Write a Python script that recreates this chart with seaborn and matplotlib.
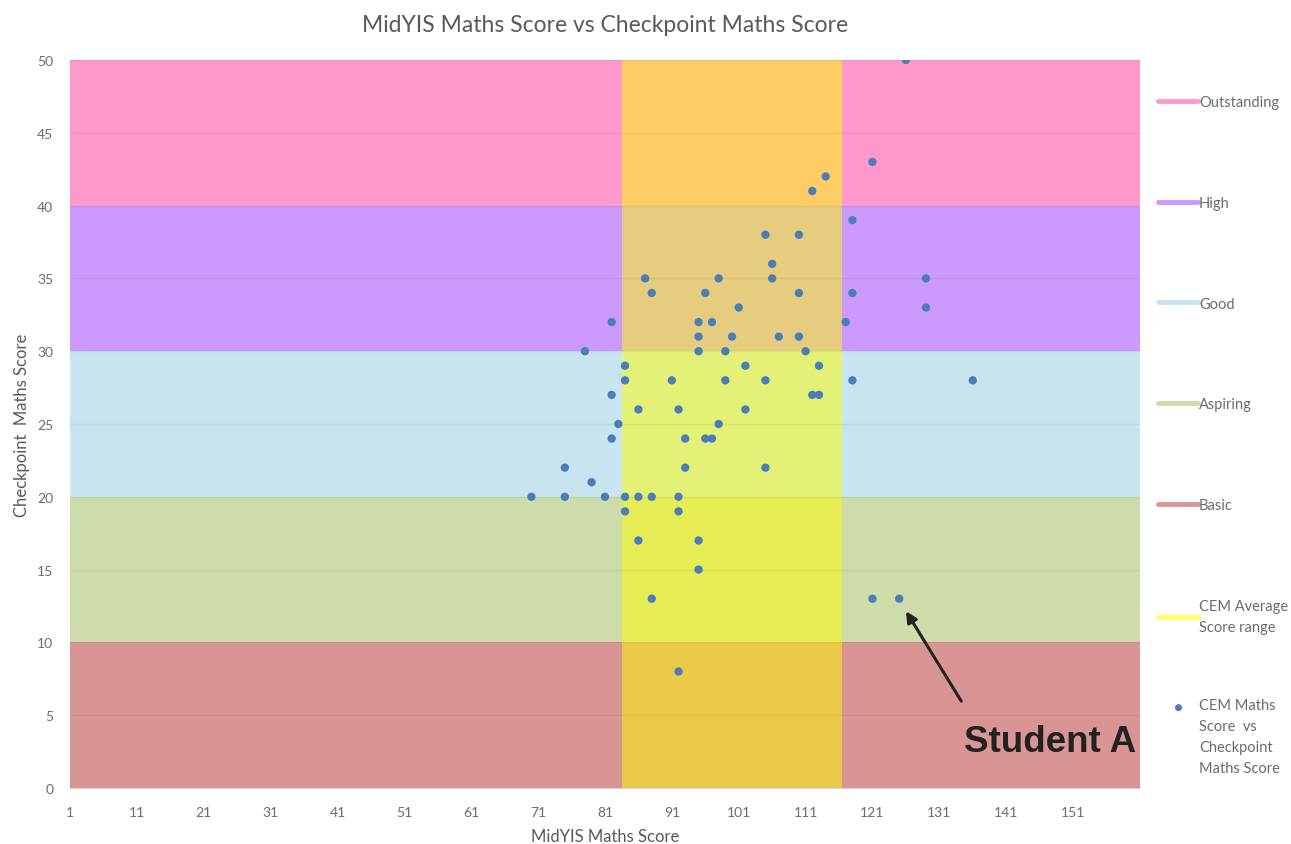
import numpy as np
import pandas as pd
import seaborn as sns
import matplotlib.pyplot as plt
from matplotlib.lines import Line2D
from matplotlib.path import Path

# Student scores
midyis = [126, 121, 114, 112, 118, 105, 110, 106, 87, 98, 106, 129, 88, 96, 110, 118,
          101, 129, 82, 95, 97, 117, 95, 100, 107, 110, 78, 95, 99, 111, 84, 102, 113,
          84, 91, 99, 105, 118, 136, 82, 112, 113, 86, 92, 102, 83, 98, 82, 93, 96, 97,
          75, 93, 105, 79, 70, 75, 81, 84, 86, 88, 92, 84, 92, 86, 95, 95, 88, 121, 125, 92]
checkpoint = [50, 43, 42, 41, 39, 38, 38, 36, 35, 35, 35, 35, 34, 34, 34, 34,
              33, 33, 32, 32, 32, 32, 31, 31, 31, 31, 30, 30, 30, 30, 29, 29, 29,
              28, 28, 28, 28, 28, 28, 27, 27, 27, 26, 26, 26, 25, 25, 24, 24, 24, 24,
              22, 22, 22, 21, 20, 20, 20, 20, 20, 20, 20, 19, 19, 17, 17, 15, 13, 13, 13, 8]

# Attainment bands (Checkpoint score)
band_names = ['Outstanding', 'High', 'Good', 'Aspiring', 'Basic']
band_lo = [40, 30, 20, 10, 0]
band_hi = [50, 40, 30, 20, 10]
band_colors = ['#ff99cc', '#cc99ff', '#c8e4ee', '#cddca9', '#d99594']

# CEM average score range (MidYIS)
cem_lo, cem_hi = 83.5, 116.5
cem_label = 'CEM Average\nScore range'
scatter_label = 'CEM Maths\nScore  vs\nCheckpoint\nMaths Score'

df = pd.DataFrame({'MidYIS': midyis, 'Checkpoint': checkpoint})

sns.set_style('white')
plt.rcParams['font.family'] = ['Lato', 'DejaVu Sans']

fig = plt.figure(figsize=(12.91, 8.45), dpi=100)
ax = fig.add_axes([0.0542, 0.0663, 0.8288, 0.8615])

for lo, hi, c in zip(band_lo, band_hi, band_colors):
    ax.axhspan(lo, hi, color=c, lw=0, zorder=0)
ax.axvspan(cem_lo, cem_hi, color='#ffff00', alpha=0.5, lw=0, zorder=0.5)

sns.scatterplot(data=df, x='MidYIS', y='Checkpoint', ax=ax, color='#4a7ebb',
                s=36, edgecolor='none', zorder=3, legend=False)

ax.set_xlim(1, 161)
ax.set_ylim(0, 50)
ax.set_xticks(np.arange(1, 152, 10))
ax.set_xticks([161], minor=True)
ax.set_yticks(np.arange(0, 51, 5))
ax.set_axisbelow('line')
ax.grid(axis='y', color='#000000', alpha=0.05, lw=1)
ax.grid(axis='x', visible=False)

for s in ['top', 'right', 'left']:
    ax.spines[s].set_visible(False)
ax.spines['bottom'].set_color('#d9d9d9')
ax.tick_params(axis='x', which='both', direction='out', length=4, color='#d9d9d9',
               labelsize=10, labelcolor='#6b6b6b', pad=9)
ax.tick_params(axis='y', length=0, labelsize=10, labelcolor='#6b6b6b', pad=12)

ax.set_title('MidYIS Maths Score vs Checkpoint Maths Score', fontsize=16.5,
             color='#595959', pad=21)
ax.set_xlabel('MidYIS Maths Score', fontsize=12, color='#595959', labelpad=7)
ax.set_ylabel('Checkpoint  Maths Score', fontsize=12, color='#595959', labelpad=5)

ax.annotate('', xy=(125.8, 12.3), xytext=(134.5, 5.8),
            arrowprops=dict(arrowstyle='-|>', color='#222222', lw=2.2,
                            mutation_scale=16), zorder=4)
ax.text(147.5, 3.2, 'Student A', fontsize=26.5, fontweight='bold', color='#222222',
        ha='center', va='center', family=['Liberation Sans', 'DejaVu Sans'], zorder=4)

handles = [Line2D([], [], color=c, lw=3.5) for c in band_colors]
handles.append(Line2D([], [], color='#ffff66', lw=3.5))
leg = fig.legend(handles, band_names + [cem_label], loc='upper left',
                 bbox_to_anchor=(0.8915, 0.895), frameon=False, fontsize=10.5,
                 handlelength=2.7, handletextpad=0.1, labelspacing=5.95, borderpad=0)
for t in leg.get_texts():
    t.set_color('#6b6b6b')
    t.set_linespacing(1.65)

# dot sits next to the first line of its label, like Excel does
c_off = 8.6
dot_marker = Path.circle(center=(0, c_off), radius=1)
dot = Line2D([], [], color='#4a7ebb', marker=dot_marker, ls='none',
             markersize=5 * (c_off + 1), markeredgewidth=0)
leg2 = fig.legend([dot], [scatter_label], loc='upper left',
                  bbox_to_anchor=(0.8915, 0.182), frameon=False, fontsize=10.5,
                  handlelength=2.7, handletextpad=0.1, borderpad=0)
for t in leg2.get_texts():
    t.set_color('#6b6b6b')
    t.set_linespacing(1.65)

plt.savefig('out.png', dpi=100)
